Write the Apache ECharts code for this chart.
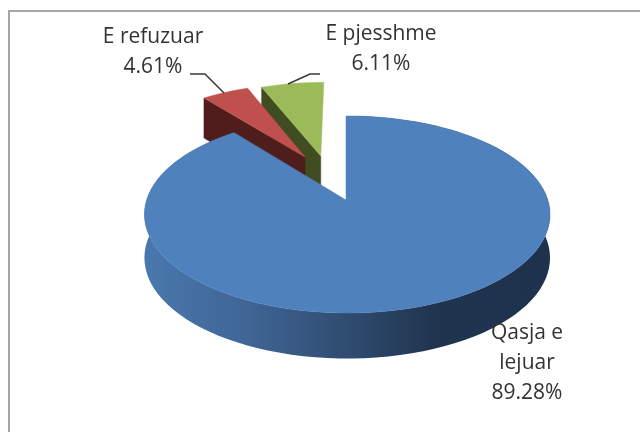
<!DOCTYPE html>
<html>
<head>
<meta charset="utf-8">
<style>html,body{margin:0;padding:0;background:#fff}#c{width:640px;height:432px;filter:blur(0.45px)}</style>
<script src="https://cdn.jsdelivr.net/npm/echarts@6/dist/echarts.min.js"></script>
</head>
<body>
<div id="c"></div>
<script>
var categories = ['Qasja e\nlejuar', 'E refuzuar', 'E pjesshme'];
var shares = [89.28, 4.61, 6.11];
var topColors = ['#4f81bd', '#c0504d', '#9bbb59'];
var cutColors = ['#1f3350', '#4f1e1c', '#3f4d20'];
var explodeU = [0, -0.219, -0.135];
var explodeV = [0, -0.477, -0.489];
var labelAt = [[527, 318], [153, 22], [381, 19]];
var leaders = [null, [[190, 74], [205, 74], [224, 93]], [[320, 74], [310, 74], [288, 84]]];

var pie = { x: 346, y: 200, a: 200.6, b: 96.4, k: 0.147, m: 0.006 };

function project(u, v, drop) {
  var w = 1 - pie.k * v - pie.m * u;
  return [pie.x + pie.a * u / w, pie.y + pie.b * v / w + (drop ? 43 + 2.5 * v : 0)];
}
function arc(idx, from, to, drop) {
  var pts = [], n = Math.max(4, Math.ceil((to - from) * 120));
  for (var i = 0; i <= n; i++) {
    var t = (from + (to - from) * i / n) * Math.PI * 2;
    pts.push(project(explodeU[idx] + Math.sin(t), explodeV[idx] - Math.cos(t), drop));
  }
  return pts;
}
function polygon(points, fill, stroke) {
  return { type: 'polygon', shape: { points: points }, style: { fill: fill, stroke: stroke || fill, lineWidth: 0.5 } };
}
var total = shares.reduce(function (s, v) { return s + v; }, 0);
var starts = [];
shares.reduce(function (s, v, i) { starts[i] = s; return s + v / total; }, 0);

function renderSlice(params, api) {
  var i = api.value(0);
  var from = starts[i], to = from + shares[i] / total;
  var top = arc(i, from, to, false), low = arc(i, from, to, true);
  var apexTop = project(explodeU[i], explodeV[i], false);
  var apexLow = project(explodeU[i], explodeV[i], true);
  var sideFill = {
    type: 'linear', x: 0, y: 0, x2: 1, y2: 0,
    colorStops: [
      { offset: 0, color: '#4a78ae' }, { offset: 0.25, color: '#3f6696' },
      { offset: 0.5, color: '#2f4c70' }, { offset: 0.72, color: '#20344f' },
      { offset: 1, color: '#1e324e' }]
  };
  var kids = [];
  if (i === 0) {
    kids.push(polygon(top.concat(low.slice().reverse()), sideFill, 'none'));
  } else {
    kids.push(polygon([top[0], apexTop, apexLow, low[0]], cutColors[i]));
  }
  kids.push(polygon([apexTop].concat(top), topColors[i]));
  if (leaders[i]) {
    kids.push({ type: 'polyline', shape: { points: leaders[i] }, style: { fill: 'none', stroke: '#3a3a3a', lineWidth: 1.5 } });
  }
  kids.push({
    type: 'text',
    style: {
      x: labelAt[i][0], y: labelAt[i][1],
      text: categories[i] + '\n' + shares[i].toFixed(2) + '%',
      font: '21px "Open Sans"', fill: '#333333', textAlign: 'center', textVerticalAlign: 'top',
      lineHeight: 30
    }
  });
  return { type: 'group', children: kids };
}

var chart = echarts.init(document.getElementById('c'), null, { renderer: 'canvas' });
chart.setOption({
  animation: false,
  graphic: [{
    type: 'polyline', shape: { points: [[9, 432], [9, 11], [640, 11]] },
    style: { fill: 'none', stroke: '#a6a6a6', lineWidth: 2 }, silent: true
  }],
  series: [2, 1, 0].map(function (idx) {
    return { type: 'custom', coordinateSystem: 'none', renderItem: renderSlice, data: [[idx, shares[idx]]], encode: { value: 1 }, silent: true };
  })
});
</script>
</body>
</html>
